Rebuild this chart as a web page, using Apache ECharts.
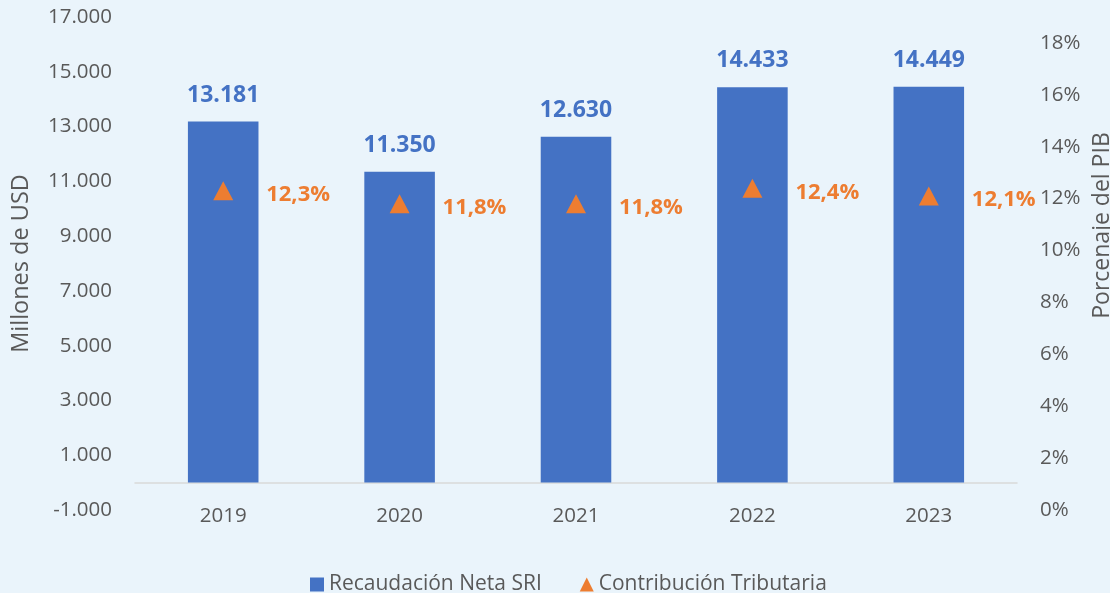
<!DOCTYPE html>
<html>
<head>
<meta charset="utf-8">
<script src="https://cdn.jsdelivr.net/npm/echarts@6/dist/echarts.min.js"></script>
<style>
  html, body { margin: 0; padding: 0; background: #EAF4FB; }
  #chart { width: 1110px; height: 593px; }
</style>
</head>
<body>
<div id="chart"></div>
<script>
// datos del grafico
var years = ['2019', '2020', '2021', '2022', '2023'];
var recaudacion = [13181, 11350, 12630, 14433, 14449];
var contribucion = [12.3, 11.8, 11.8, 12.4, 12.1];

var FONT = '"Open Sans", sans-serif';

function miles(v) {
    var s = Math.abs(Math.round(v)).toString().replace(/\B(?=(\d{3})+(?!\d))/g, '.');
    return (v < 0 ? '-' : '') + s;
}

var chart = echarts.init(document.getElementById('chart'));
var option = {
    backgroundColor: '#EAF4FB',
    textStyle: { fontFamily: FONT },
    grid: { left: 135, right: 93, top: 17, bottom: 83, outerBoundsMode: 'none', containLabel: false },
    legend: {
        top: 569,
        left: 305,
        itemWidth: 14,
        itemHeight: 14,
        itemGap: 38,
        textStyle: { fontFamily: FONT, fontSize: 21, color: '#595959' },
        data: [
            { name: 'Recaudación Neta SRI', icon: 'rect' },
            { name: 'Contribución Tributaria', icon: 'triangle' }
        ]
    },
    xAxis: {
        type: 'category',
        data: years,
        axisLine: { lineStyle: { color: '#D9D9D9', width: 1.5 } },
        axisTick: { show: false },
        axisLabel: { color: '#595959', fontSize: 20.5, margin: -4, fontFamily: FONT }
    },
    yAxis: [
        {
            type: 'value',
            min: -1000,
            max: 17000,
            interval: 2000,
            name: 'Millones de USD',
            nameLocation: 'middle',
            nameGap: 102,
            nameTextStyle: { color: '#595959', fontSize: 23.5, fontFamily: FONT },
            axisLine: { show: false },
            axisTick: { show: false },
            splitLine: { show: false },
            axisLabel: { color: '#595959', fontSize: 20.5, margin: 23, fontFamily: FONT, formatter: miles }
        },
        {
            type: 'value',
            min: 0,
            max: 19,
            interval: 2,
            name: 'Porcenaje del PIB',
            nameLocation: 'middle',
            nameGap: 73,
            nameTextStyle: { color: '#595959', fontSize: 23, fontFamily: FONT, padding: [0, 0, 0, 76] },
            axisLine: { show: false },
            axisTick: { show: false },
            splitLine: { show: false },
            axisLabel: {
                color: '#595959', fontSize: 20.5, margin: 23, fontFamily: FONT,
                showMaxLabel: false,
                formatter: function (v) { return v + '%'; }
            }
        }
    ],
    series: [
        {
            name: 'Recaudación Neta SRI',
            type: 'bar',
            data: recaudacion,
            barWidth: '40%',
            itemStyle: { color: '#4472C4' },
            label: {
                show: true,
                position: 'top',
                distance: 15,
                color: '#4472C4',
                fontSize: 23,
                fontWeight: 'bold',
                fontFamily: FONT,
                formatter: function (p) { return miles(p.value); }
            }
        },
        {
            name: 'Contribución Tributaria',
            type: 'scatter',
            yAxisIndex: 1,
            data: contribucion,
            symbol: 'triangle',
            symbolSize: [20, 19],
            itemStyle: { color: '#ED7D31', opacity: 1 },
            label: {
                show: true,
                position: 'right',
                distance: 33,
                offset: [0, 4],
                color: '#ED7D31',
                fontSize: 22,
                fontWeight: 'bold',
                fontFamily: FONT,
                formatter: function (p) { return p.value.toFixed(1).replace('.', ',') + '%'; }
            }
        }
    ]
};
chart.setOption(option);
</script>
</body>
</html>
